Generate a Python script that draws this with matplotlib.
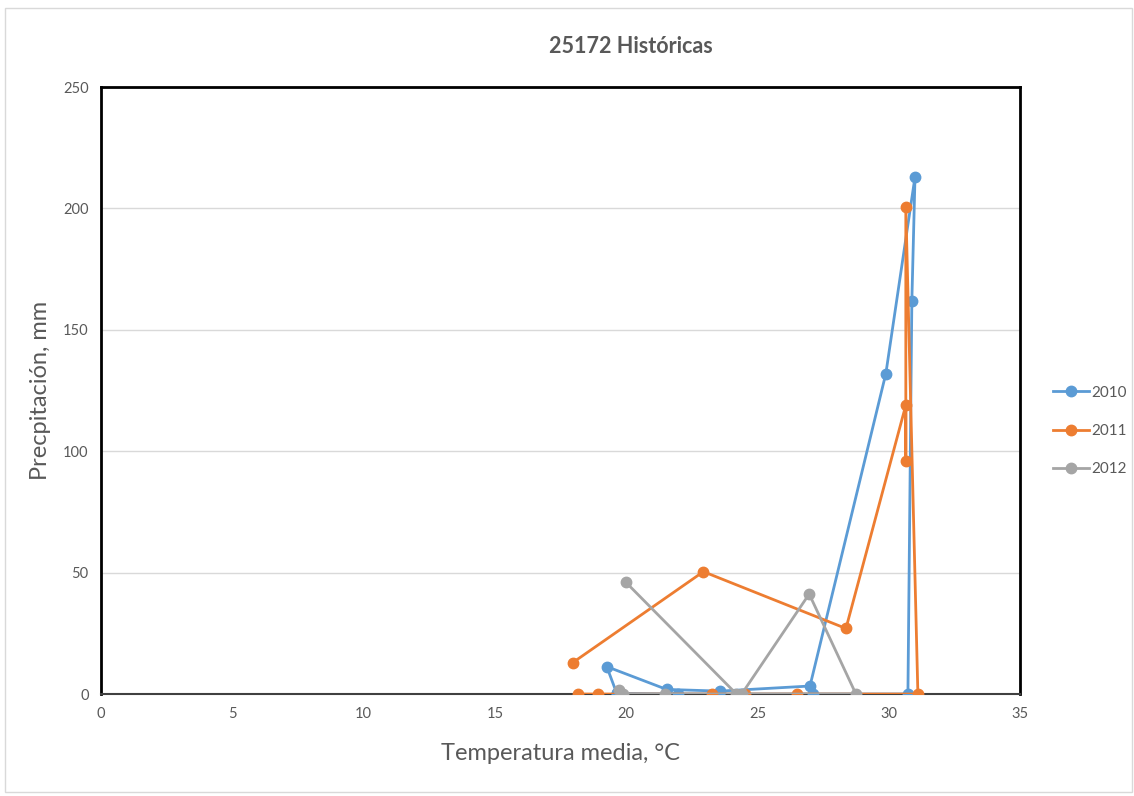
import matplotlib
matplotlib.use("Agg")
import matplotlib.pyplot as plt
from matplotlib import font_manager
from matplotlib.patches import Rectangle

names = {f.name for f in font_manager.fontManager.ttflist}
fam = "Lato" if "Lato" in names else "DejaVu Sans"
plt.rcParams['font.family'] = [fam, 'DejaVu Sans']

title = "25172 Históricas"
xlabel = "Temperatura media, °C"
ylabel = "Precpitación, mm"

series_names = ["2010", "2011", "2012"]
colors = ["#5B9BD5", "#ED7D31", "#A5A5A5"]

t2010 = [19.64, 19.26, 21.54, 23.57, 27.00, 29.89, 31.00, 30.88, 30.73, 27.13, 21.98, 19.64]
p2010 = [0.3, 11.3, 1.9, 1.2, 3.3, 132.0, 213.0, 162.0, 0.0, 0.0, 0.0, 0.3]

t2011 = [17.96, 22.94, 28.37, 30.65, 30.65, 30.65, 31.11, 26.49, 24.52, 23.25, 18.94, 18.18]
p2011 = [12.9, 50.4, 27.0, 119.0, 96.0, 200.7, 0.0, 0.0, 0.0, 0.0, 0.0, 0.0]

t2012 = [19.99, 24.20, 24.40, 26.97, 28.75, 21.48, 19.86, 19.74]
p2012 = [46.0, 0.0, 0.0, 41.2, 0.0, 0.0, 0.0, 1.6]

data = [(t2010, p2010), (t2011, p2011), (t2012, p2012)]

xticks = [0, 5, 10, 15, 20, 25, 30, 35]
yticks = [0, 50, 100, 150, 200, 250]

fig = plt.figure(figsize=(11.34, 7.96), dpi=100)
ax = fig.add_axes([0.0891, 0.1281, 0.8104, 0.7626])

for (t, p), name, c in zip(data, series_names, colors):
    ax.plot(t, p, color=c, lw=2.0, marker='o', ms=7.5, label=name, zorder=3,
            solid_joinstyle='round')

ax.set_xlim(0, 35)
ax.set_ylim(0, 250)
ax.set_xticks(xticks)
ax.set_yticks(yticks)
ax.grid(axis='y', color='#D9D9D9', lw=1.0, zorder=0)
ax.set_axisbelow(True)
for s in ['top', 'left', 'right']:
    ax.spines[s].set_color('black')
    ax.spines[s].set_linewidth(2.0)
ax.spines['bottom'].set_color('#404040')
ax.spines['bottom'].set_linewidth(1.5)
ax.tick_params(length=0, labelsize=10.5, colors='#595959', pad=9)

ax.set_xlabel(xlabel, fontsize=17, color='#595959', labelpad=16)
ax.set_ylabel(ylabel, fontsize=17, color='#595959')
ax.yaxis.set_label_coords(-0.054, 0.5)
fig.text(0.556, 0.941, title, fontsize=15.5, fontweight='bold', color='#595959',
         ha='center', va='center')

leg = fig.legend(loc='center left', bbox_to_anchor=(0.929, 0.4585), frameon=False,
                 fontsize=11, labelcolor='#595959', handlelength=2.3,
                 labelspacing=1.6, handletextpad=0.2, borderpad=0, borderaxespad=0)

fig.patches.append(Rectangle((0.004, 0.005), 0.994, 0.985, transform=fig.transFigure,
                             fill=False, edgecolor='#D9D9D9', lw=1.0))

fig.savefig("out.png", dpi=100)
